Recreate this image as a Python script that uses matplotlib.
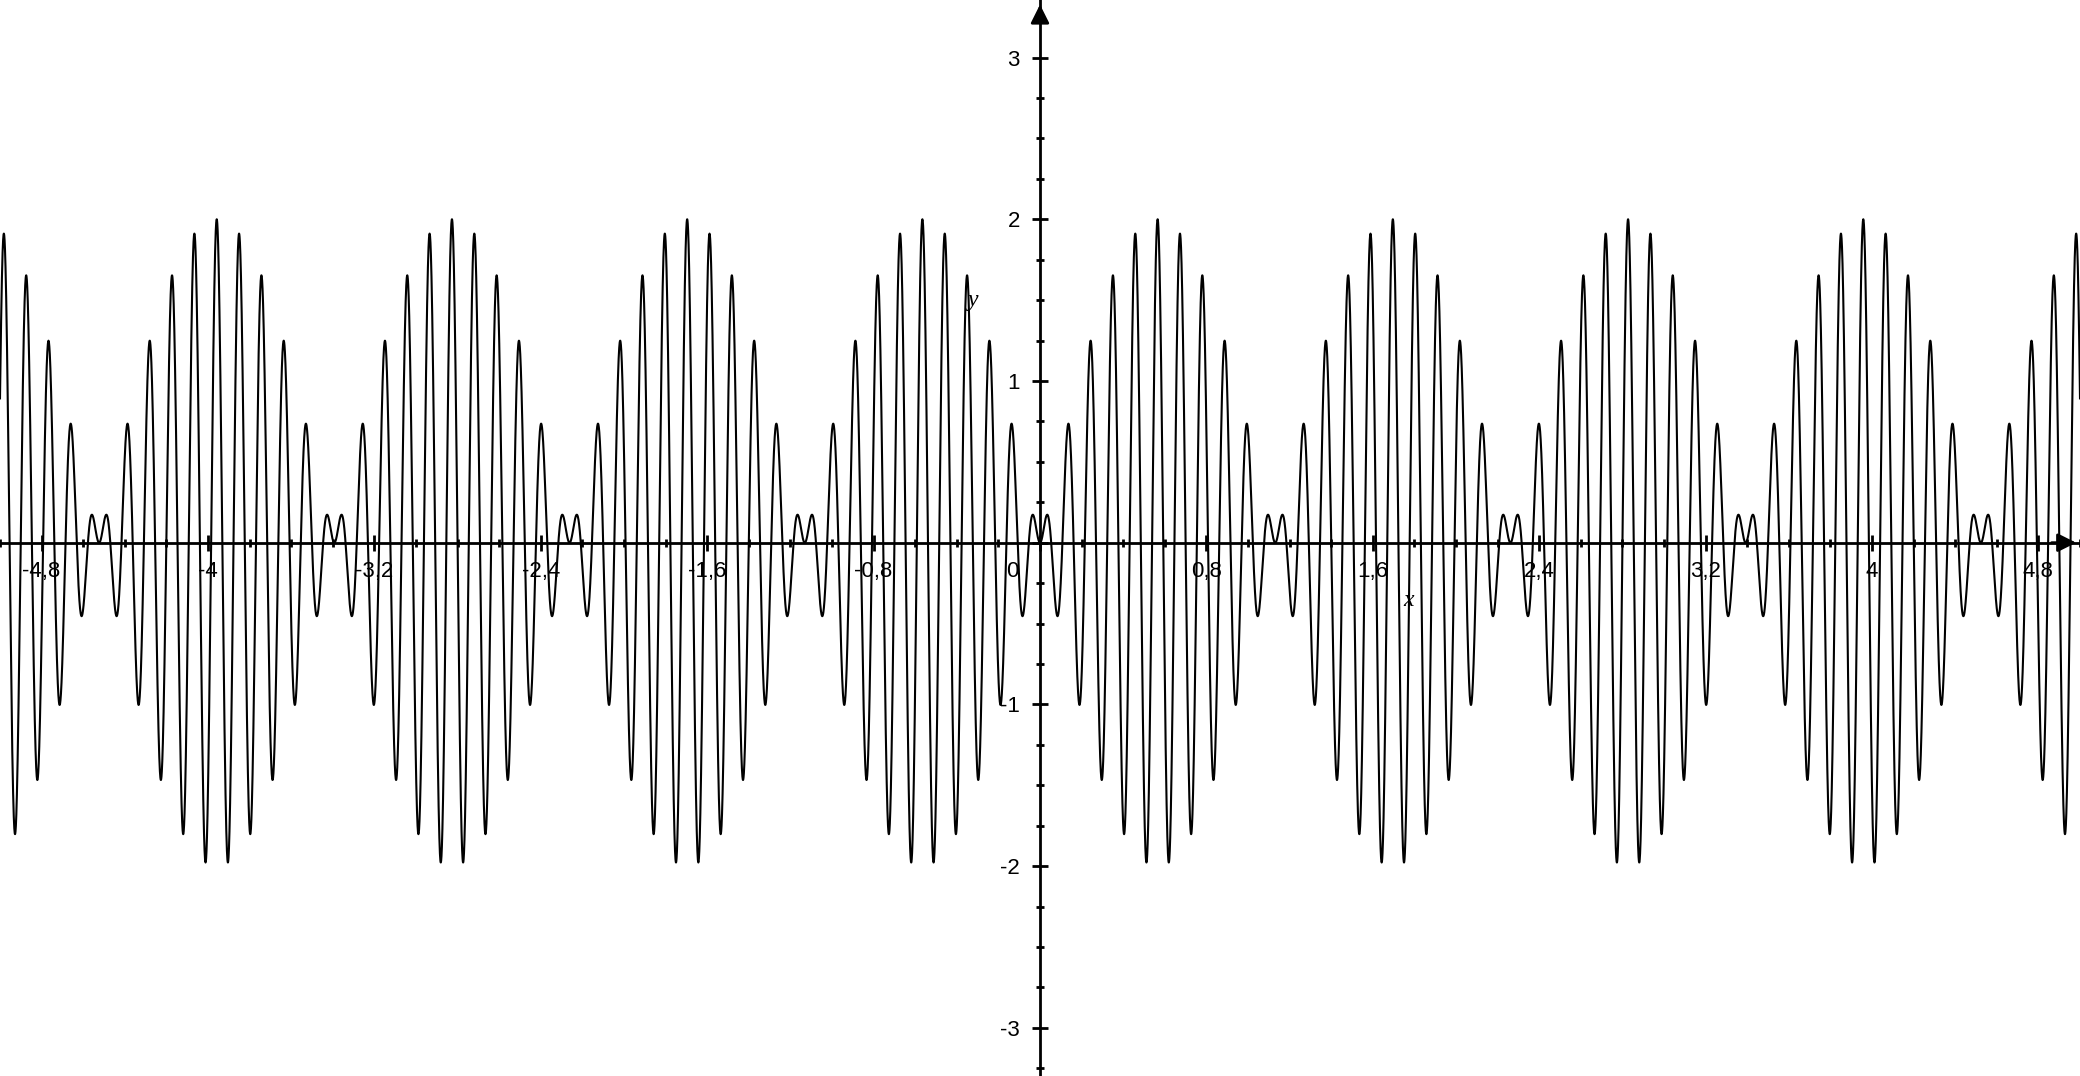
"""
Beat pattern: f(x) = cos(a x) - cos(b x), drawn like a GeoGebra graphics view
"""
import numpy as np
import matplotlib
matplotlib.use('Agg')
import matplotlib.pyplot as plt
from matplotlib.ticker import FixedLocator, MultipleLocator, FixedFormatter

# function parameters (a : b = 10 : 11)
K = 5.556
OMEGA_1 = 10 * K
OMEGA_2 = 11 * K

X_MIN, X_MAX = -5.0, 5.0
Y_MIN, Y_MAX = -3.298, 3.356

X_TICKS = [-4.8, -4.0, -3.2, -2.4, -1.6, -0.8, 0.0, 0.8, 1.6, 2.4, 3.2, 4.0, 4.8]
X_LABELS = ['-4,8', '-4', '-3,2', '-2,4', '-1,6', '-0,8', '', '0,8', '1,6', '2,4', '3,2', '4', '4,8']
Y_TICKS = [-3, -2, -1, 0, 1, 2, 3]
Y_LABELS = ['-3', '-2', '-1', '', '1', '2', '3']

FONT = 'Liberation Sans'


def main():
	fig = plt.figure(figsize=(20.8, 10.76), dpi=100)
	ax = fig.add_axes([0, 0, 1, 1])

	x = np.linspace(X_MIN, X_MAX, 40001)
	y = np.cos(OMEGA_1 * x) - np.cos(OMEGA_2 * x)
	ax.plot(x, y, color='black', lw=1.5, zorder=3)

	ax.set_xlim(X_MIN, X_MAX)
	ax.set_ylim(Y_MIN, Y_MAX)

	# axes through the origin
	for side in ['top', 'right']:
		ax.spines[side].set_visible(False)
	for side in ['left', 'bottom']:
		ax.spines[side].set_position(('data', 0))
		ax.spines[side].set_linewidth(2.0)
		ax.spines[side].set_zorder(4)

	ax.xaxis.set_major_locator(FixedLocator(X_TICKS))
	ax.xaxis.set_major_formatter(FixedFormatter(X_LABELS))
	ax.xaxis.set_minor_locator(MultipleLocator(0.2))
	ax.yaxis.set_major_locator(FixedLocator(Y_TICKS))
	ax.yaxis.set_major_formatter(FixedFormatter(Y_LABELS))
	ax.yaxis.set_minor_locator(MultipleLocator(0.25))

	ax.tick_params(which='major', direction='inout', length=11, width=2.0, labelsize=16, pad=8)
	ax.tick_params(which='minor', direction='inout', length=6, width=2.0)
	ax.tick_params(axis='y', which='major', pad=9)
	for lab in ax.get_xticklabels() + ax.get_yticklabels():
		lab.set_fontfamily(FONT)

	# the 0 sits left of the y axis
	ax.text(-0.135, -0.18, '0', fontsize=16, fontfamily=FONT, ha='center', va='center')

	# arrow heads
	ax.annotate('', xy=(4.995, 0), xytext=(4.85, 0),
				arrowprops=dict(arrowstyle='-|>', color='black', lw=2, mutation_scale=28),
				zorder=5, annotation_clip=False)
	ax.annotate('', xy=(0, 3.345), xytext=(0, 3.2),
				arrowprops=dict(arrowstyle='-|>', color='black', lw=2, mutation_scale=28),
				zorder=5, annotation_clip=False)

	# axis names
	ax.text(-0.32, 1.5, 'y', fontsize=17, fontfamily='Liberation Serif', style='italic',
			ha='center', va='center')
	ax.text(1.77, -0.36, 'x', fontsize=17, fontfamily='Liberation Serif', style='italic',
			ha='center', va='center')

	fig.savefig('out.png', dpi=100)


if __name__ == '__main__':
	main()
